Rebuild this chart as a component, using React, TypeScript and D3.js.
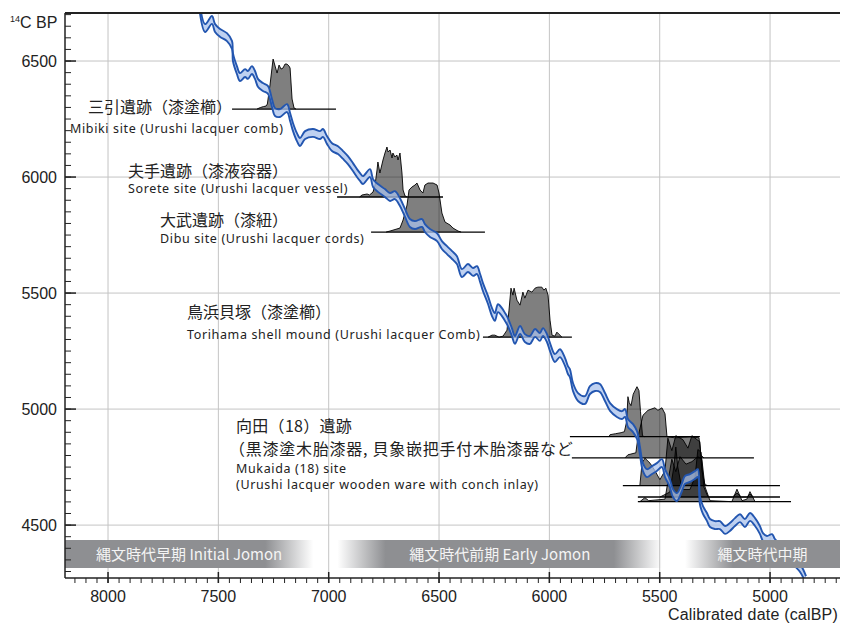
import React from 'react';
import * as d3 from 'd3';

// ---------- data ----------
const xTicks = [8000, 7500, 7000, 6500, 6000, 5500, 5000];
const yTicks = [6500, 6000, 5500, 5000, 4500];

// calibration curve [calBP, 14C BP]
const calCurve: [number, number][] = [
  [7583, 6720], [7560, 6642], [7529, 6677], [7515, 6642], [7492, 6621], [7461, 6603], [7438, 6569],
  [7434, 6517], [7416, 6461], [7402, 6431], [7379, 6448], [7366, 6440], [7348, 6461], [7334, 6440],
  [7320, 6405], [7298, 6388], [7275, 6375], [7257, 6319], [7243, 6280], [7221, 6276], [7189, 6297],
  [7175, 6259], [7162, 6216], [7144, 6172], [7130, 6151], [7107, 6181], [7071, 6190], [7039, 6181],
  [7026, 6190], [7008, 6160], [6985, 6129], [6958, 6116], [6935, 6095], [6913, 6073], [6890, 6043],
  [6872, 6017], [6858, 6000], [6845, 5987], [6813, 6017], [6799, 5974], [6777, 5953], [6745, 5931],
  [6722, 5914], [6700, 5922], [6677, 5892], [6654, 5845], [6632, 5802], [6609, 5793], [6577, 5802],
  [6564, 5780], [6541, 5759], [6509, 5741], [6487, 5707], [6464, 5685], [6441, 5664], [6419, 5642],
  [6396, 5586], [6369, 5608], [6346, 5591], [6328, 5599], [6314, 5565], [6301, 5526], [6278, 5470],
  [6260, 5418], [6247, 5397], [6233, 5435], [6215, 5418], [6201, 5397], [6188, 5375], [6170, 5332],
  [6156, 5298], [6133, 5341], [6111, 5306], [6088, 5298], [6065, 5328], [6043, 5311], [6029, 5332],
  [6011, 5306], [5997, 5267], [5975, 5220], [5952, 5241], [5929, 5203], [5916, 5168], [5907, 5155],
  [5893, 5095], [5870, 5052], [5839, 5039], [5816, 5082], [5793, 5095], [5771, 5091], [5748, 5052],
  [5725, 5009], [5694, 4983], [5671, 4974], [5657, 4983], [5644, 4940], [5621, 4918], [5603, 4888],
  [5590, 4823], [5576, 4750], [5558, 4724], [5535, 4737], [5513, 4750], [5490, 4767], [5476, 4724],
  [5454, 4681], [5440, 4638], [5422, 4621], [5399, 4664], [5386, 4694], [5363, 4703], [5340, 4716],
  [5327, 4724], [5318, 4608], [5304, 4565], [5286, 4535], [5272, 4509], [5250, 4500], [5227, 4500],
  [5204, 4479], [5182, 4492], [5159, 4513], [5136, 4530], [5114, 4509], [5091, 4535], [5068, 4513],
  [5046, 4479], [5032, 4448], [5014, 4436], [4991, 4444], [4978, 4423], [4933, 4380], [4864, 4315],
  [4837, 4263],
];
const curveError = 17;

// probability distributions [calBP, relative probability]
const mibikiDist: [number, number][] = [
  [7325, 0], [7310, 0.03], [7295, 0.05], [7284, 0.06], [7278, 0.1], [7266, 0.48], [7257, 0.82],
  [7252, 1.0], [7243, 0.86], [7234, 0.72], [7225, 0.88], [7216, 0.8], [7207, 0.82], [7198, 0.9],
  [7189, 0.9], [7180, 0.86], [7175, 0.82], [7166, 0.2], [7157, 0.02], [7148, 0],
];
const soreteDist: [number, number][] = [
  [6860, 0], [6849, 0.04], [6826, 0.06], [6815, 0.04], [6799, 0.1], [6790, 0.24], [6781, 0.54],
  [6777, 0.7], [6768, 0.48], [6754, 0.74], [6745, 0.88], [6736, 1.0], [6731, 0.9], [6722, 0.94],
  [6713, 0.78], [6709, 0.88], [6700, 0.8], [6691, 0.84], [6686, 0.74], [6677, 0.88], [6668, 0.48],
  [6663, 0.14], [6654, 0.02], [6645, 0],
];
const dibuDist: [number, number][] = [
  [6740, 0], [6722, 0.02], [6677, 0.08], [6663, 0.24], [6645, 0.54], [6636, 0.84], [6623, 0.9],
  [6609, 0.94], [6600, 0.98], [6586, 0.84], [6573, 0.78], [6564, 0.94], [6550, 0.98], [6527, 0.98],
  [6509, 0.94], [6500, 0.78], [6487, 0.38], [6473, 0.2], [6450, 0.14], [6437, 0.08], [6414, 0.02],
  [6400, 0],
];
const torihamaDist: [number, number][] = [
  [6278, 0], [6260, 0.04], [6247, 0.04], [6228, 0], [6210, 0.02], [6192, 0.14], [6183, 0.54],
  [6174, 0.98], [6165, 0.84], [6160, 0.98], [6147, 0.74], [6133, 0.64], [6120, 0.9], [6111, 0.78],
  [6097, 0.94], [6079, 0.9], [6065, 0.98], [6052, 1.0], [6034, 1.0], [6025, 0.94], [6016, 0.98],
  [6006, 0.84], [5997, 0.34], [5988, 0.04], [5975, 0.02], [5966, 0.1], [5957, 0.06], [5943, 0],
];
const mukaida1Dist: [number, number][] = [
  [5730, 0], [5725, 0.04], [5700, 0.06], [5675, 0.08], [5660, 0.1], [5650, 0.3], [5644, 0.8],
  [5638, 0.68], [5630, 0.62], [5620, 0.85], [5603, 1.0], [5594, 0.92], [5587, 0.5], [5578, 0.02],
  [5570, 0],
];
const mukaida2Dist: [number, number][] = [
  [5657, 0], [5644, 0.06], [5608, 0.1], [5599, 0.4], [5576, 0.85], [5553, 0.95], [5522, 1.0],
  [5508, 0.95], [5490, 1.0], [5476, 0.88], [5467, 0.42], [5431, 0.4], [5363, 0.42], [5322, 0.4],
  [5313, 0.05], [5300, 0],
];
const mukaida3Dist: [number, number][] = [
  [5590, 0], [5580, 0.45], [5567, 0.55], [5544, 0.45], [5522, 0.3], [5499, 0.12], [5476, 0.3],
  [5463, 0.95], [5445, 0.7], [5427, 1.0], [5395, 0.92], [5372, 0.75], [5354, 1.0], [5331, 0.92],
  [5318, 0.88], [5309, 0.3], [5295, 0.02], [5281, 0],
];
const mukaida4Dist: [number, number][] = [
  [5499, 0], [5476, 0.05], [5454, 0.1], [5436, 0.6], [5427, 1.0], [5418, 0.6], [5399, 0.15],
  [5363, 0.15], [5340, 0.4], [5327, 0.95], [5313, 0.9], [5300, 0.2], [5281, 0], [5170, 0],
  [5150, 0.08], [5130, 0], [5105, 0], [5091, 0.06], [5075, 0],
];
const mukaida5Dist: [number, number][] = [
  [5590, 0], [5567, 0.08], [5550, 0.02], [5476, 0.05], [5463, 0.4], [5445, 0.85], [5427, 0.6],
  [5408, 0.9], [5381, 0.75], [5354, 0.8], [5327, 0.9], [5309, 0.85], [5295, 0.3], [5272, 0.02],
  [5173, 0], [5150, 0.25], [5127, 0.02], [5105, 0.05], [5091, 0.2], [5068, 0],
];

// baseline of each distribution: [from calBP, to calBP, 14C BP level]
const mibikiLine = [7438, 6967, 6293];
const soreteLine = [6962, 6482, 5914];
const dibuLine = [6808, 6292, 5763];
const torihamaLine = [6301, 5898, 5310];
const mukaida1Line = [5907, 5318, 4881];
const mukaida2Line = [5898, 5073, 4790];
const mukaida3Line = [5667, 4955, 4670];
const mukaida4Line = [5599, 4955, 4621];
const mukaida5Line = [5599, 4905, 4601];

const periodNames = ['縄文時代早期 Initial Jomon', '縄文時代前期 Early Jomon', '縄文時代中期'];
const periodFrom = [8195, 6960, 5385];
const periodTo = [7070, 5490, 4683];

const xDomain = [8195, 4683];
const yDomain = [4272, 6707];

// ---------- component ----------
const JP = '"Noto Sans CJK JP", "Noto Sans", sans-serif';
const EN = '"Noto Sans", "Open Sans", sans-serif';
const AX = '"Liberation Sans", Arial, sans-serif';

export default function App() {
  const L = 65, R = 840, T = 13, B = 578;
  const x = d3.scaleLinear().domain(xDomain).range([L, R]);
  const y = d3.scaleLinear().domain(yDomain).range([B, T]);
  const DH = 50; // px height of prob = 1

  const curveType = d3.curveCatmullRom.alpha(0.5);
  const upper = d3.line<[number, number]>().x(d => x(d[0])).y(d => y(d[1] + curveError)).curve(curveType);
  const lower = d3.line<[number, number]>().x(d => x(d[0])).y(d => y(d[1] - curveError)).curve(curveType);
  const band = d3.area<[number, number]>().x(d => x(d[0]))
    .y0(d => y(d[1] - curveError)).y1(d => y(d[1] + curveError)).curve(curveType);

  const dists = [
    { d: mibikiDist, l: mibikiLine },
    { d: soreteDist, l: soreteLine },
    { d: dibuDist, l: dibuLine },
    { d: torihamaDist, l: torihamaLine },
    { d: mukaida1Dist, l: mukaida1Line },
    { d: mukaida2Dist, l: mukaida2Line },
    { d: mukaida3Dist, l: mukaida3Line },
    { d: mukaida4Dist, l: mukaida4Line },
    { d: mukaida5Dist, l: mukaida5Line },
  ];

  const xMinor = d3.range(4700, 8200, 50).filter(v => x(v) >= L && x(v) <= R);
  const yMinor = d3.range(4300, 6701, 50);

  const bandTop = 540, bandBot = 568, fade = 48;
  const bandColor = '#8e8f92';
  const enStyle = { fontFamily: EN, fontSize: 12.5, letterSpacing: 0.64 };

  return (
    <svg width={841} height={624} style={{ position: 'absolute', left: 0, top: 0, background: '#fff' }}>
      <defs>
        <clipPath id="plot"><rect x={L} y={T} width={R - L} height={B - T} /></clipPath>
        {periodNames.map((n, i) => {
          const x0 = x(periodFrom[i]), x1 = x(periodTo[i]);
          const w = x1 - x0;
          const fi = periodFrom[i] < xDomain[0];
          const fo = periodTo[i] > xDomain[1];
          return (
            <linearGradient key={n} id={`pg${i}`} gradientUnits="userSpaceOnUse" x1={x0} x2={x1} y1={0} y2={0}>
              <stop offset={0} stopColor={bandColor} stopOpacity={fi ? 0 : 1} />
              <stop offset={fi ? fade / w : 0} stopColor={bandColor} stopOpacity={1} />
              <stop offset={fo ? 1 - fade / w : 1} stopColor={bandColor} stopOpacity={1} />
              <stop offset={1} stopColor={bandColor} stopOpacity={fo ? 0 : 1} />
            </linearGradient>
          );
        })}
      </defs>

      {/* grid */}
      {xTicks.map(t => (
        <line key={'gx' + t} x1={x(t)} x2={x(t)} y1={T} y2={B} stroke="#c4c4c4" strokeWidth={1} />
      ))}
      {yTicks.map(t => (
        <line key={'gy' + t} x1={L} x2={R} y1={y(t)} y2={y(t)} stroke="#c4c4c4" strokeWidth={1} />
      ))}

      {/* distributions */}
      <g clipPath="url(#plot)">
        {dists.map((ds, i) => {
          const base = y(ds.l[2]);
          const a = d3.area<[number, number]>().x(d => x(d[0])).y0(base).y1(d => base - d[1] * DH);
          const ln = d3.line<[number, number]>().x(d => x(d[0])).y(d => base - d[1] * DH);
          return (
            <g key={i}>
              <path d={a(ds.d) || ''} fill="#000" fillOpacity={0.5} />
              <path d={ln(ds.d) || ''} fill="none" stroke="#000" strokeWidth={0.9} />
            </g>
          );
        })}
        {dists.map((ds, i) => (
          <line key={'b' + i} x1={x(ds.l[0])} x2={x(ds.l[1])} y1={y(ds.l[2])} y2={y(ds.l[2])}
            stroke="#000" strokeWidth={1.3} />
        ))}
      </g>

      {/* calibration curve */}
      <g clipPath="url(#plot)">
        <path d={band(calCurve) || ''} fill="#a9c2ec" fillOpacity={0.75} />
        <path d={upper(calCurve) || ''} fill="none" stroke="#2356b0" strokeWidth={1.9} />
        <path d={lower(calCurve) || ''} fill="none" stroke="#2356b0" strokeWidth={1.9} />
      </g>

      {/* period bands (drawn over the curve) */}
      {periodNames.map((n, i) => {
        const x0 = x(periodFrom[i]), x1 = x(periodTo[i]);
        return (
          <g key={n}>
            <rect x={x0} y={bandTop} width={x1 - x0} height={bandBot - bandTop} fill={`url(#pg${i})`} />
            <text x={(x0 + x1) / 2} y={(bandTop + bandBot) / 2 + 5.5} textAnchor="middle"
              fontFamily={JP} fontSize={15} fill="#f4f4f4">{n}</text>
          </g>
        );
      })}

      {/* labels */}
      <g fill="#222">
        <text x={88} y={113} fontSize={16} fontFamily={JP}>三引遺跡（漆塗櫛）</text>
        <text x={70} y={132.5} style={enStyle}>Mibiki site (Urushi lacquer comb)</text>
        <text x={128} y={176.5} fontSize={16} fontFamily={JP}>夫手遺跡（漆液容器）</text>
        <text x={128} y={193} style={enStyle}>Sorete site (Urushi lacquer vessel)</text>
        <text x={160} y={225.5} fontSize={16} fontFamily={JP}>大武遺跡（漆紐）</text>
        <text x={160} y={242.5} style={enStyle}>Dibu site (Urushi lacquer cords)</text>
        <text x={187} y={317.5} fontSize={16} fontFamily={JP}>鳥浜貝塚（漆塗櫛）</text>
        <text x={187} y={339} style={enStyle}>Torihama shell mound (Urushi lacquer Comb)</text>
        <text x={236} y={431.5} fontSize={16} fontFamily={JP} letterSpacing={0.3}>向田（18）遺跡</text>
        <text x={229} y={454.5} fontSize={16} fontFamily={JP} letterSpacing={0.75}>（黒漆塗木胎漆器, 貝象嵌把手付木胎漆器など</text>
        <text x={236} y={473} style={enStyle}>Mukaida (18) site</text>
        <text x={236} y={488.5} style={enStyle}>(Urushi lacquer wooden ware with conch inlay)</text>
      </g>

      {/* axes */}
      <line x1={L} x2={R} y1={T} y2={T} stroke="#222" strokeWidth={2} />
      <line x1={L} x2={L} y1={T} y2={B} stroke="#222" strokeWidth={1.5} />
      <line x1={L} x2={R} y1={B} y2={B} stroke="#222" strokeWidth={1.5} />
      {xMinor.map(v => (
        <line key={'xm' + v} x1={x(v)} x2={x(v)} y1={B} y2={B + 5} stroke="#222" strokeWidth={1} />
      ))}
      {xTicks.map(v => (
        <g key={'xt' + v}>
          <line x1={x(v)} x2={x(v)} y1={B - 6} y2={B + 5} stroke="#222" strokeWidth={1.5} />
          <text x={x(v)} y={602} textAnchor="middle" fontFamily={AX} fontSize={16} fill="#222">{v}</text>
        </g>
      ))}
      {yMinor.map(v => (
        <line key={'ym' + v} x1={L} x2={L + 6} y1={y(v)} y2={y(v)} stroke="#222" strokeWidth={1} />
      ))}
      {yTicks.map(v => (
        <g key={'yt' + v}>
          <line x1={L} x2={L + 11} y1={y(v)} y2={y(v)} stroke="#222" strokeWidth={1.5} />
          <text x={57} y={y(v) + 6} textAnchor="end" fontFamily={AX} fontSize={16} fill="#222">{v}</text>
        </g>
      ))}
      <text x={838} y={620} textAnchor="end" fontFamily={AX} fontSize={16} letterSpacing={0.2} fill="#222">Calibrated date (calBP)</text>
      <text x={10} y={28} fontFamily={AX} fill="#222">
        <tspan fontSize={9} dy={-6}>14</tspan>
        <tspan fontSize={16} dy={6}>C BP</tspan>
      </text>
    </svg>
  );
}
